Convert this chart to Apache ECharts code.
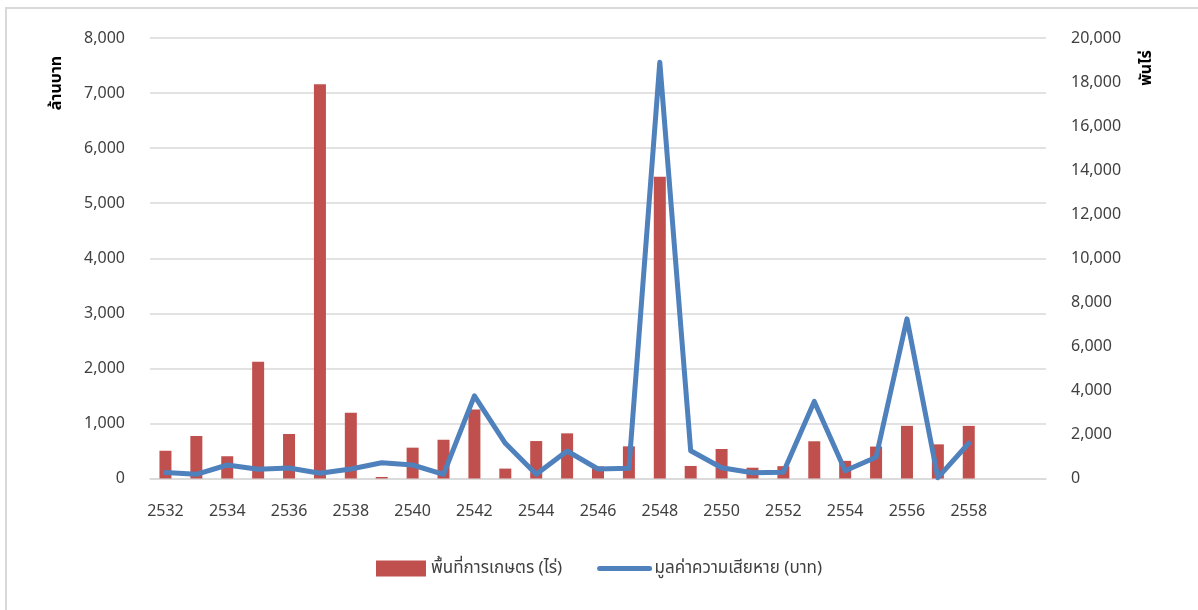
<!DOCTYPE html>
<html>
<head>
<meta charset="utf-8">
<script src="https://cdn.jsdelivr.net/npm/echarts@6/dist/echarts.min.js"></script>
<style>
  html, body { margin: 0; padding: 0; background: #ffffff; }
  #chart { width: 1198px; height: 610px; }
</style>
</head>
<body>
<div id="chart"></div>
<script>
// Fiscal years (Buddhist Era); the last two slots are left empty
const years = ['2532','2533','2534','2535','2536','2537','2538','2539','2540','2541',
               '2542','2543','2544','2545','2546','2547','2548','2549','2550','2551',
               '2552','2553','2554','2555','2556','2557','2558','2559','2560'];

// Damaged agricultural area, thousand rai (right axis)
const areaThousandRai = [1260, 1930, 1010, 5300, 2020, 17900, 2980, 70, 1400, 1760,
                         3130, 450, 1700, 2050, 550, 1460, 13700, 570, 1340, 490,
                         560, 1690, 800, 1450, 2390, 1550, 2390, null, null];

// Value of damage, million baht (left axis)
const lossMillionBaht = [110, 76, 245, 167, 191, 94, 173, 287, 245, 76,
                         1500, 640, 76, 500, 173, 185, 7560, 505, 196, 105,
                         113, 1400, 142, 385, 2900, 15, 640, null, null];

const areaName = 'พื้นที่การเกษตร (ไร่)';
const lossName = 'มูลค่าความเสียหาย (บาท)';
const leftUnit = 'ล้านบาท';
const rightUnit = 'พันไร่';

// only years that carry data get a tick label, every second one
const lastLabelledIndex = 26;

const FONT = '"Noto Sans", "Noto Sans Thai", "Tahoma", sans-serif';
const TEXT = '#404040';
const RED = '#c0504d';
const BLUE = '#4f81bd';

const chart = echarts.init(document.getElementById('chart'), null, { renderer: 'canvas' });

chart.setOption({
  backgroundColor: '#ffffff',
  animation: false,
  textStyle: { fontFamily: FONT },
  grid: { left: 150, right: 152, top: 38, bottom: 131.5, containLabel: false },
  legend: {
    bottom: 28,
    left: 'center',
    itemGap: 35,
    itemWidth: 50,
    itemHeight: 16,
    textStyle: { fontSize: 17, color: TEXT, fontFamily: FONT },
    data: [
      { name: areaName, icon: 'rect' },
      {
        name: lossName,
        itemStyle: { opacity: 0, color: 'rgba(0,0,0,0)', borderWidth: 0 },
        lineStyle: { width: 5, cap: 'round', color: BLUE }
      }
    ]
  },
  xAxis: {
    type: 'category',
    data: years,
    boundaryGap: true,
    axisLine: { show: true, lineStyle: { color: '#d9d9d9', width: 1.5 } },
    axisTick: { show: false },
    axisLabel: {
      interval: (idx) => idx % 2 === 0 && idx <= lastLabelledIndex,
      margin: 25, fontSize: 16, color: TEXT, fontFamily: FONT
    }
  },
  yAxis: [
    {
      type: 'value',
      min: 0, max: 8000, interval: 1000,
      axisLine: { show: false },
      axisTick: { show: false },
      splitLine: { show: true, lineStyle: { color: '#d9d9d9', width: 1.5 } },
      axisLabel: {
        margin: 25, fontSize: 16, color: TEXT, fontFamily: FONT,
        formatter: v => v.toLocaleString('en-US')
      }
    },
    {
      type: 'value',
      min: 0, max: 20000, interval: 2000,
      axisLine: { show: false },
      axisTick: { show: false },
      splitLine: { show: false },
      axisLabel: {
        margin: 25, fontSize: 16, color: TEXT, fontFamily: FONT,
        formatter: v => v.toLocaleString('en-US')
      }
    }
  ],
  series: [
    {
      name: areaName,
      type: 'bar',
      yAxisIndex: 1,
      data: areaThousandRai,
      barWidth: 12,
      itemStyle: { color: RED },
      z: 2
    },
    {
      name: lossName,
      type: 'line',
      yAxisIndex: 0,
      data: lossMillionBaht,
      symbol: 'none',
      showSymbol: false,
      connectNulls: false,
      lineStyle: { color: BLUE, width: 5, cap: 'round', join: 'round' },
      itemStyle: { color: BLUE },
      z: 3
    }
  ],
  graphic: [
    {
      type: 'rect',
      silent: true,
      shape: { x: 6, y: 8, width: 1400, height: 800 },
      style: { fill: 'none', stroke: '#d9d9d9', lineWidth: 2 }
    },
    {
      type: 'text',
      x: 56, y: 83,
      rotation: Math.PI / 2,
      style: {
        text: leftUnit, fill: '#000000',
        font: 'bold 16px ' + FONT,
        textAlign: 'center', textVerticalAlign: 'middle'
      }
    },
    {
      type: 'text',
      x: 1146, y: 68,
      rotation: Math.PI / 2,
      style: {
        text: rightUnit, fill: '#000000',
        font: 'bold 16px ' + FONT,
        textAlign: 'center', textVerticalAlign: 'middle'
      }
    }
  ]
});
</script>
</body>
</html>
